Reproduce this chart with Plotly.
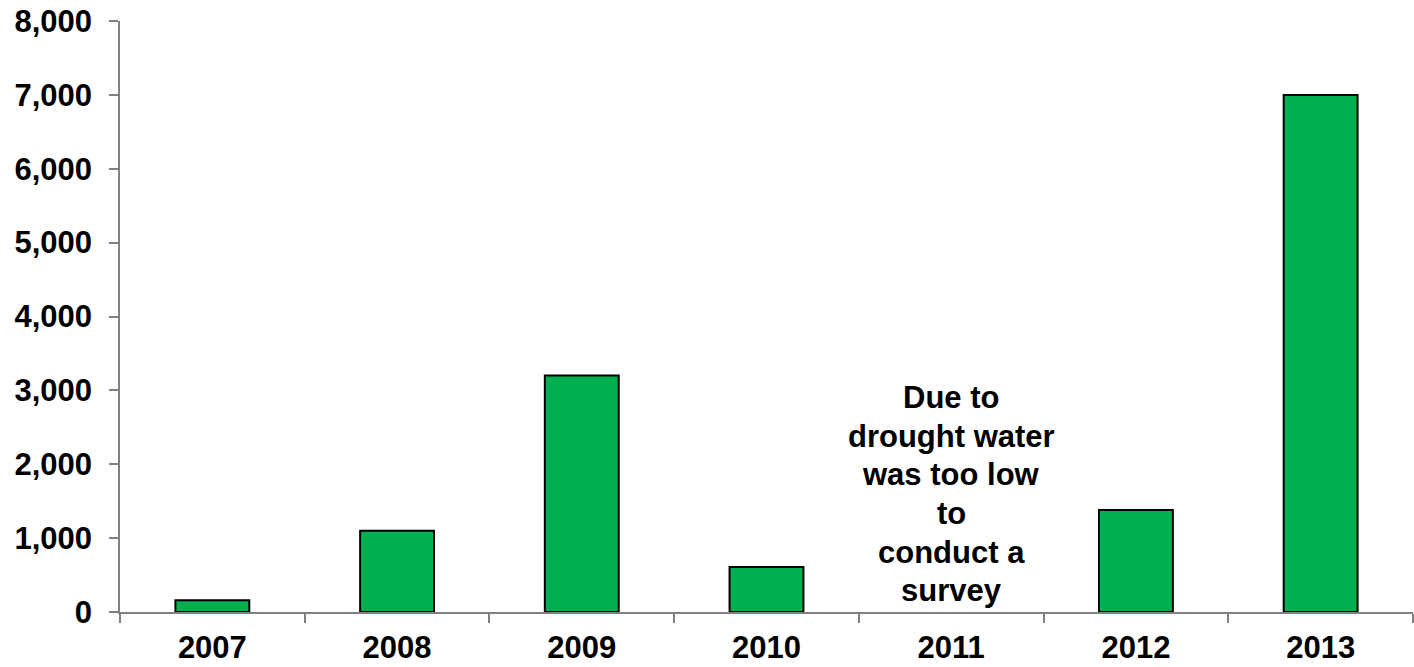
import plotly.graph_objects as go

years = ["2007", "2008", "2009", "2010", "2011", "2012", "2013"]
values = [160, 1100, 3200, 610, None, 1380, 7000]
note_year = "2011"
note_lines = ["Due to", "drought water", "was too low", "to", "conduct a", "survey"]
y_ticks = [0, 1000, 2000, 3000, 4000, 5000, 6000, 7000, 8000]

FAMILY = "Liberation Sans, Arial, sans-serif"
FONT = dict(family=FAMILY, size=31, color="black")

fig = go.Figure()
fig.add_trace(go.Bar(
    x=years, y=values,
    marker=dict(color="#00B050", line=dict(color="black", width=2)),
    width=0.4,
))

# annotation for 2011, one line per annotation to mimic line spacing
top_val = 2900
step = 522
for i, line in enumerate(note_lines):
    fig.add_annotation(x=years.index(note_year), y=top_val - i * step, text=f"<b>{line}</b>",
                       showarrow=False, font=FONT, xanchor="center", yanchor="middle")

fig.update_layout(
    width=1414, height=667,
    margin=dict(l=120, r=1, t=21, b=55),
    plot_bgcolor="white", paper_bgcolor="white",
    showlegend=False,
    font=FONT,
)
fig.update_xaxes(
    type="category", categoryorder="array", categoryarray=years,
    range=[-0.5, len(years) - 0.5], automargin=False,
    tickson="boundaries", ticks="outside", ticklen=9,
    tickcolor="#808080", tickwidth=1.5,
    showline=True, linecolor="#808080", linewidth=1.5,
    showgrid=False, tickfont=dict(size=31, family=FAMILY, color="black"),
    tickprefix="<b>", ticksuffix="</b>", ticklabelstandoff=7, tickangle=0,
)
fig.update_yaxes(
    range=[0, 8000], tickvals=y_ticks, ticktext=[f"<b>{v:,}</b>" for v in y_ticks],
    automargin=False,
    ticks="outside", ticklen=9, tickcolor="#808080", tickwidth=1.5,
    showline=True, linecolor="#808080", linewidth=1.5,
    showgrid=False, zeroline=False,
    tickfont=dict(size=31, family=FAMILY, color="black"),
    ticklabelstandoff=11,
)
fig.write_html("out.html", config={"displayModeBar": False},
               post_script="document.body.style.margin='0';document.body.style.overflow='hidden';")
